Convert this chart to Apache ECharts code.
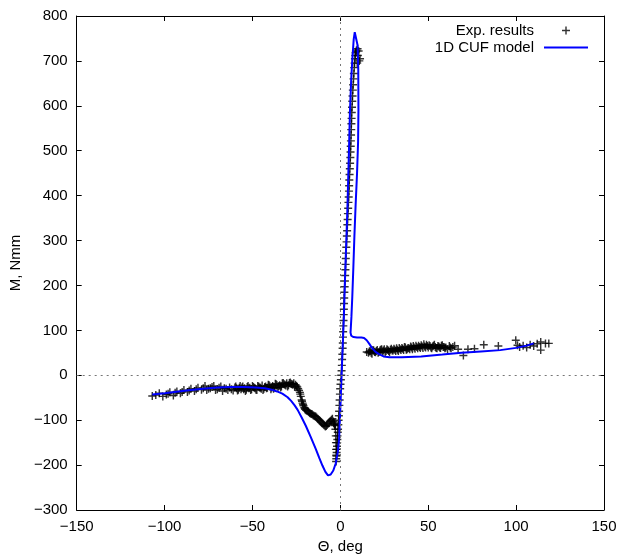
<!DOCTYPE html>
<html>
<head>
<meta charset="utf-8">
<script src="https://cdn.jsdelivr.net/npm/echarts@6/dist/echarts.min.js"></script>
<style>
html,body{margin:0;padding:0;background:#fff;}
#chart{width:631px;height:559px;}
</style>
</head>
<body>
<div id="chart"></div>
<script>
// Axis settings
const xTicks = [-150, -100, -50, 0, 50, 100, 150];
const yTicks = [-300, -200, -100, 0, 100, 200, 300, 400, 500, 600, 700, 800];
const seriesNames = ['Exp. results', '1D CUF model'];
const xName = 'Θ, deg';
const yName = 'M, Nmm';

// Experimental results (Θ [deg], M [Nmm])
const expLeft = [
  [-107,-46],[-105,-44],[-103,-40],[-101,-47],[-99,-43],[-98,-41],[-97,-38],[-95,-45],[-94,-39],[-93,-36],
  [-91,-40],[-90,-37],[-89,-33],[-87,-37],[-86,-34],[-85,-30],[-83,-35],[-82,-31],[-81,-28],[-79,-32],
  [-78,-29],[-77,-24],[-76,-33],[-75,-30],[-74,-29],[-73,-26],[-72,-24],[-71,-33],[-70,-31],[-69,-28],
  [-68,-25],[-67,-35],[-66,-29],[-65,-30],[-64,-33],[-63,-27],[-62,-31],[-61,-34],[-60,-27],[-59,-29],
  [-58,-32],[-57,-24],[-56,-27],[-55,-31],[-54,-35],[-53,-26],[-52,-29],[-51,-33],[-50,-24],[-49,-28],
  [-48,-32],[-47,-24],[-46,-27],[-45,-30],[-44,-33],[-43,-26],[-42,-29],[-41,-21],[-40,-25],[-39,-27],
  [-38,-30],[-37,-19],[-36,-22],[-35,-24],[-34,-27],[-33,-18],[-32,-20],[-31,-23],[-30,-25],[-29,-17],
  [-28,-19],[-27,-21],[-26,-26],[-25,-24],
  [-59.5,-25],[-58.5,-34],[-57.5,-28],[-56.5,-31],[-55.5,-25],[-54.5,-29],[-53.5,-32],[-52.5,-24],[-51.5,-28],[-50.5,-31],
  [-49.5,-26],[-48.5,-29],[-47.5,-33],[-46.5,-25],[-45.5,-28],[-44.5,-23],[-43.5,-30],[-42.5,-25],[-41.5,-28],[-40.5,-22],
  [-39.5,-31],[-38.5,-24],[-37.5,-27],[-36.5,-20],[-35.5,-28],[-34.5,-22],[-33.5,-25],[-32.5,-17],[-31.5,-21],[-30.5,-18],
  [-29.5,-22],[-28.5,-16],[-27.5,-20],[-26.5,-18],[-25.5,-21],[-24.5,-26]
];
const expDrop = [
  [-24,-30],[-23.5,-34],[-23,-38],[-22.8,-42],[-22.5,-47],[-22,-55],[-21.8,-58],[-21.5,-62],[-21.2,-65],[-21,-68],
  [-20.5,-72],[-20.2,-74],[-20,-76],[-19.5,-78],[-19,-79],[-18.5,-80],[-18,-82],[-17.5,-84],[-17,-85],[-16.5,-86],
  [-16,-87],[-15.5,-89],[-15,-90],[-14.5,-91],[-14,-92],[-13.5,-94],[-13,-96],[-12.5,-98],[-12,-100],[-11.5,-102],
  [-11,-104],[-10.5,-106],[-10,-108],[-9.5,-110],[-9,-112],[-8.5,-114],[-8,-113],[-7.5,-111],[-7,-108],[-6.5,-106],
  [-6,-103],[-5.5,-101],[-5,-99],[-4.5,-97],[-4,-103],[-3.8,-106],[-3.5,-108],[-3.2,-110],[-3,-112],[-2.8,-120],
  [-2.6,-135],[-2.5,-150],[-2.4,-165],[-2.3,-178]
];
const expRise = [
  [-2.4,-192],[-2.3,-186],[-2.2,-180],[-2.1,-172],[-2.0,-165],[-1.9,-158],[-1.8,-150],[-1.7,-143],[-1.6,-135],[-1.45,-127],
  [-1.3,-120],[-1.15,-110],[-1.0,-100],[-0.85,-90],[-0.7,-80],[-0.55,-67],[-0.4,-55],[-0.25,-42],[-0.1,-30],[0.1,-20],
  [0.3,-10],[0.5,0],[0.7,10],[0.85,22],[1.0,35],[1.15,47],[1.3,60],[1.4,72],[1.5,85],[1.6,97],
  [1.7,110],[1.8,122],[1.9,135],[2.0,147],[2.1,160],[2.2,172],[2.3,185],[2.45,197],[2.6,210],[2.75,222],
  [2.9,235],[3.0,247],[3.1,260],[3.25,272],[3.4,285],[3.55,297],[3.7,310],[3.85,322],[4.0,335],[4.15,347],
  [4.3,360],[4.45,372],[4.6,385],[4.75,397],[4.9,410],[5.0,422],[5.1,435],[5.25,447],[5.4,460],[5.55,472],
  [5.7,485],[5.8,497],[5.9,510],[6.0,522],[6.1,535],[6.2,547],[6.3,560],[6.4,572],[6.5,585],[6.65,597],
  [6.8,610],[6.95,622],[7.1,635],[7.3,647],[7.5,660],[7.7,672],[7.9,685],[8.1,695],[8.3,705],[8.5,712],
  [8.7,718],[9.0,721],[9.2,724],[9.8,727],[10.4,722],[10.0,712],[10.8,700],[9.6,695],[11.2,705]
];
const expRight = [
  [15,52],[16,50],[16.5,53],[17,54],[17.5,50],[18,48],[18.5,56],[19,55],[19.5,52],[20,51],
  [20.5,54],[21,56],[21.5,50],[22,52],[22.5,55],[23,57],[23.5,58],[24,53],[24.5,55],[25,58],
  [25.5,52],[26,54],[26.5,58],[27,56],[27.5,54],[28,52],[28.5,57],[29,59],[29.5,55],[30,55],
  [30.5,59],[31,57],[31.5,54],[32,60],[32.5,57],[33,54],[33.5,61],[34,58],[34.5,56],[35,61],
  [35.5,59],[36,56],[36.5,63],[37,62],[37.5,57],[38,58],[38.5,61],[39,60],[39.5,58],[40,64],
  [40.5,62],[41,58],[41.5,65],[42,62],[42.5,59],[43,66],[43.5,63],[44,60],[44.5,66],[45,63],
  [45.5,61],[46,67],[46.5,64],[47,61],[47.5,69],[48,64],[48.5,62],[49,68],[49.5,65],[50,62],
  [50.5,67],[51,65],[51.5,62],[52,60],[52.5,64],[53,66],[53.5,68],[54,63],[54.5,61],[55,60],
  [55.5,65],[56,64],[56.5,62],[57,61],[57.5,66],[58,67],[58.5,63],[59,63],[59.5,60],[60,62],
  [61,58],[62,65],[62.5,62],[63,60],[64,63],[65,66],[67,58],[70,44],[72.6,58],[76.3,59],
  [81.6,68],[89.9,65],[99.8,78],[100.8,67],[102,63],[104,66],[106,62],[108,68],[110,65],[112,70],
  [114,74],[114,56],[116.7,71],[118.6,71]
];
const expData = expLeft.concat(expDrop, expRise, expRight);

// 1D CUF model curve (Θ [deg], M [Nmm]), in drawing order
const modelData = [
  [-107,-43],[-100,-40],[-92,-36],[-85,-33],[-78,-30],[-70,-27],[-62,-26],[-55,-26],[-48,-27],[-43,-29],
  [-39,-32],[-36,-36],[-33,-41],[-30,-49],[-28,-57],[-26,-67],[-24.3,-77],[-22,-94],[-19.6,-113],[-17,-136],
  [-14,-164],[-12,-184],[-10.2,-201],[-8.5,-215],[-7,-223],[-5.5,-221],[-4,-212],[-2.6,-196],[-1.4,-170],[-0.7,-142],
  [0.2,-53],[0.7,0],[1.3,60],[2,130],[2.7,220],[3.4,300],[4,369],[4.7,470],[5.5,591],[6.2,660],
  [6.8,702],[7.6,748],[8.2,764],[8.7,768],[9.3,760],[9.8,735],[10.2,680],[10.3,591],[10.1,520],[9.5,450],
  [8.7,380],[8,310],[7.4,240],[6.8,175],[6.3,130],[5.9,102],[5.8,95],[6.2,88],[7.5,85],[9.5,84],
  [12,84],[13.5,83],[15,78],[16.5,70],[18,61],[20,52],[22,47],[24.6,42],[28,40],[35,40],
  [46,42],[58,46],[69,50],[80,53],[91,56],[100,61],[106,66],[110,71]
];

const FONT = "'Liberation Sans', Arial, sans-serif";
const minusFmt = v => String(v).replace('-', '\u2212');
const crossPath = 'path://M3,0h1.3v3h3v1.3h-3v3h-1.3v-3h-3v-1.3h3z';

const chart = echarts.init(document.getElementById('chart'), null, {renderer: 'canvas'});

const commonAxisLine = {show: true, onZero: false, lineStyle: {color: '#000', width: 1}};
const commonTick = {show: true, inside: true, length: 5, lineStyle: {color: '#000', width: 1}};

chart.setOption({
  animation: false,
  backgroundColor: '#fff',
  textStyle: {fontFamily: FONT},
  grid: {left: 72, right: 27, top: 16, bottom: 48, containLabel: false},
  legend: {
    orient: 'vertical',
    right: 42,
    top: 22,
    padding: 0,
    align: 'right',
    itemWidth: 44,
    itemHeight: 8,
    itemGap: 0,
    textStyle: {fontFamily: FONT, fontSize: 15, lineHeight: 17, color: '#000', padding: [0, 5, 0, 0]},
    data: [
      {name: seriesNames[0], icon: crossPath, itemStyle: {color: '#000'}},
      {name: seriesNames[1], itemStyle: {opacity: 0}}
    ]
  },
  xAxis: [
    {
      type: 'value', min: xTicks[0], max: xTicks[xTicks.length - 1], interval: 50,
      name: xName, nameLocation: 'middle', nameGap: 29,
      nameTextStyle: {fontFamily: FONT, fontSize: 15, color: '#000'},
      axisLine: commonAxisLine, axisTick: commonTick,
      axisLabel: {fontFamily: FONT, fontSize: 15, color: '#000', margin: 9, formatter: minusFmt},
      splitLine: {show: false}
    },
    {
      type: 'value', position: 'top', min: xTicks[0], max: xTicks[xTicks.length - 1], interval: 50,
      axisLine: commonAxisLine, axisTick: commonTick, axisLabel: {show: false}, splitLine: {show: false}
    }
  ],
  yAxis: [
    {
      type: 'value', min: yTicks[0], max: yTicks[yTicks.length - 1], interval: 100,
      name: yName, nameLocation: 'middle', nameGap: 42, nameRotate: 90,
      nameTextStyle: {fontFamily: FONT, fontSize: 15, color: '#000'},
      axisLine: commonAxisLine, axisTick: commonTick,
      axisLabel: {fontFamily: FONT, fontSize: 15, color: '#000', margin: 9, formatter: minusFmt},
      splitLine: {show: false}
    },
    {
      type: 'value', position: 'right', min: yTicks[0], max: yTicks[yTicks.length - 1], interval: 100,
      axisLine: commonAxisLine, axisTick: commonTick, axisLabel: {show: false}, splitLine: {show: false}
    }
  ],
  series: [
    {
      name: seriesNames[0],
      type: 'scatter',
      xAxisIndex: 0, yAxisIndex: 0,
      data: expData,
      symbol: crossPath,
      symbolSize: 8,
      itemStyle: {color: '#000'},
      z: 2,
      markLine: {
        silent: true,
        symbol: 'none',
        label: {show: false},
        lineStyle: {color: '#777', width: 1, type: [2, 4]},
        data: [{xAxis: 0}, {yAxis: 0}]
      }
    },
    {
      name: seriesNames[1],
      type: 'line',
      xAxisIndex: 0, yAxisIndex: 0,
      data: modelData,
      showSymbol: false,
      symbol: 'none',
      smooth: false,
      lineStyle: {color: '#0000ff', width: 2},
      itemStyle: {color: '#0000ff'},
      z: 3
    }
  ]
});
</script>
</body>
</html>
